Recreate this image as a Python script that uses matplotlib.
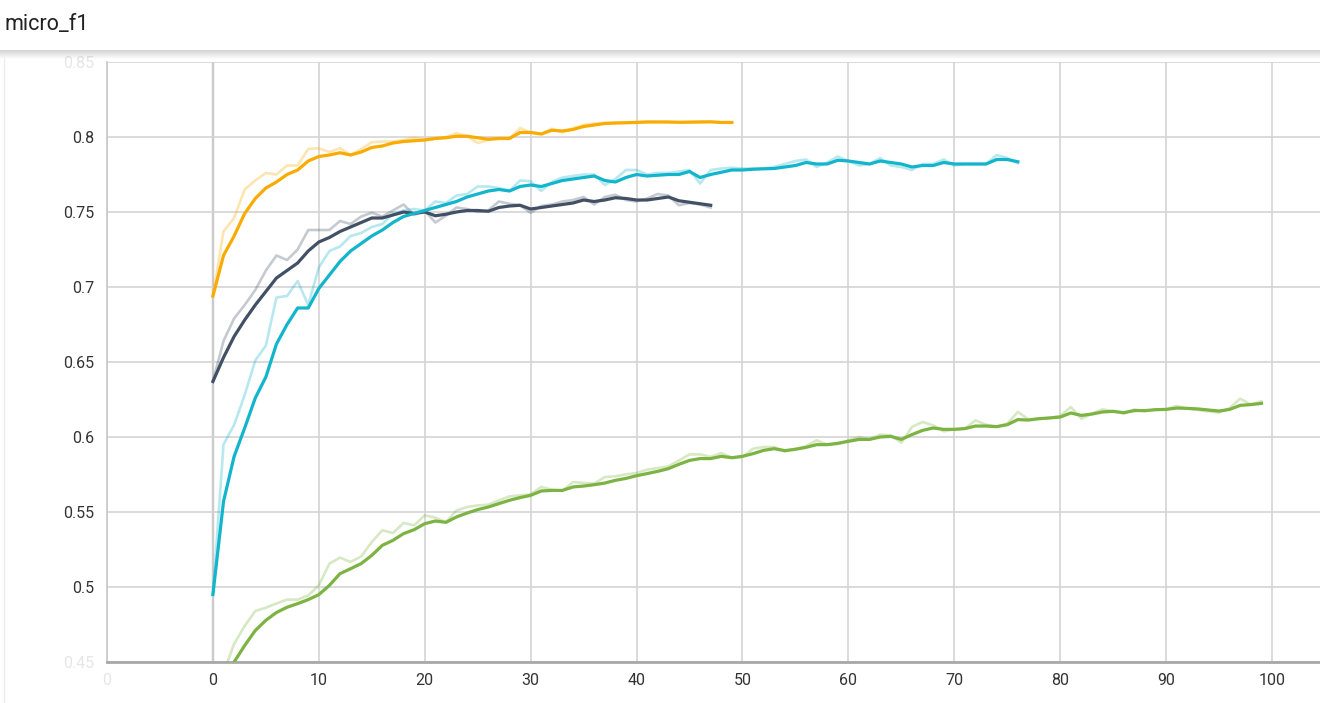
import numpy as np
import matplotlib
matplotlib.use("Agg")
import matplotlib.pyplot as plt
from matplotlib.lines import Line2D

plt.rcParams['font.family'] = ['Roboto', 'DejaVu Sans']

title = "micro_f1"

orange_smooth = [0.694, 0.721, 0.734, 0.749, 0.759, 0.766, 0.770, 0.775, 0.778, 0.784,
                 0.787, 0.788, 0.7895, 0.788, 0.790, 0.793, 0.794, 0.796, 0.797, 0.7975,
                 0.798, 0.799, 0.7995, 0.8005, 0.8005, 0.7995, 0.7985, 0.799, 0.799, 0.803,
                 0.803, 0.802, 0.8045, 0.804, 0.805, 0.807, 0.808, 0.809, 0.8093, 0.8095,
                 0.8097, 0.810, 0.810, 0.810, 0.8098, 0.8099, 0.810, 0.8101, 0.8097, 0.8097]
orange_raw = [0.694, 0.737, 0.746, 0.765, 0.771, 0.776, 0.775, 0.781, 0.781, 0.792,
              0.7925, 0.790, 0.7925, 0.788, 0.792, 0.7965, 0.797, 0.797, 0.798, 0.7995,
              0.798, 0.799, 0.800, 0.8025, 0.8005, 0.796, 0.798, 0.799, 0.799, 0.806,
              0.803, 0.802, 0.8055, 0.803, 0.806, 0.808, 0.809, 0.8095, 0.8095, 0.8097,
              0.810, 0.8102, 0.8102, 0.810, 0.8098, 0.810, 0.8102, 0.8102, 0.8095, 0.8097]

navy_smooth = [0.637, 0.653, 0.667, 0.678, 0.688, 0.697, 0.706, 0.711, 0.716, 0.724,
               0.730, 0.733, 0.737, 0.740, 0.743, 0.746, 0.746, 0.748, 0.750, 0.749,
               0.750, 0.7475, 0.7485, 0.750, 0.751, 0.751, 0.7505, 0.753, 0.754, 0.7545,
               0.752, 0.753, 0.754, 0.755, 0.756, 0.758, 0.757, 0.758, 0.7595, 0.759,
               0.758, 0.758, 0.759, 0.760, 0.7575, 0.7565, 0.7555, 0.7545]
navy_raw = [0.637, 0.664, 0.679, 0.688, 0.698, 0.711, 0.721, 0.718, 0.725, 0.738,
            0.738, 0.738, 0.744, 0.742, 0.747, 0.7495, 0.747, 0.751, 0.755, 0.748,
            0.751, 0.743, 0.7475, 0.753, 0.752, 0.750, 0.751, 0.757, 0.7555, 0.7545,
            0.7495, 0.754, 0.755, 0.757, 0.758, 0.760, 0.755, 0.760, 0.7615, 0.758,
            0.757, 0.759, 0.762, 0.761, 0.7545, 0.756, 0.755, 0.753]

cyan_smooth = [0.495, 0.557, 0.587, 0.606, 0.626, 0.640, 0.662, 0.675, 0.686, 0.686,
               0.699, 0.708, 0.717, 0.724, 0.729, 0.734, 0.738, 0.743, 0.747, 0.749,
               0.751, 0.753, 0.755, 0.757, 0.760, 0.762, 0.764, 0.765, 0.764, 0.767,
               0.768, 0.767, 0.769, 0.771, 0.772, 0.773, 0.774, 0.771, 0.770, 0.773,
               0.775, 0.774, 0.7745, 0.775, 0.775, 0.777, 0.773, 0.775, 0.7765, 0.778,
               0.778, 0.7785, 0.7788, 0.779, 0.780, 0.781, 0.783, 0.782, 0.782, 0.7845,
               0.784, 0.783, 0.782, 0.784, 0.783, 0.782, 0.780, 0.781, 0.781, 0.783,
               0.782, 0.782, 0.782, 0.782, 0.785, 0.785, 0.7835]
cyan_raw = [0.495, 0.595, 0.608, 0.628, 0.651, 0.661, 0.693, 0.694, 0.704, 0.688,
            0.713, 0.724, 0.727, 0.734, 0.736, 0.740, 0.742, 0.749, 0.751, 0.752,
            0.751, 0.757, 0.756, 0.761, 0.762, 0.767, 0.767, 0.766, 0.764, 0.771,
            0.7705, 0.764, 0.770, 0.773, 0.774, 0.775, 0.775, 0.768, 0.772, 0.778,
            0.778, 0.775, 0.776, 0.776, 0.777, 0.778, 0.769, 0.778, 0.779, 0.7795,
            0.779, 0.779, 0.779, 0.780, 0.782, 0.784, 0.785, 0.780, 0.783, 0.787,
            0.784, 0.781, 0.782, 0.786, 0.781, 0.780, 0.778, 0.782, 0.782, 0.785,
            0.781, 0.782, 0.782, 0.782, 0.788, 0.786, 0.7825]

green_smooth = [0.400, 0.430, 0.450, 0.461, 0.471, 0.4778, 0.483, 0.4865, 0.4889, 0.4916,
                0.4949, 0.5011, 0.5089, 0.5122, 0.5156, 0.5211, 0.5278, 0.5311, 0.5356, 0.5382,
                0.5422, 0.544, 0.5431, 0.5467, 0.5493, 0.5516, 0.5533, 0.5556, 0.5578, 0.5596,
                0.5611, 0.564, 0.5644, 0.5644, 0.5667, 0.5673, 0.5682, 0.5693, 0.5711, 0.5724,
                0.5742, 0.5756, 0.5771, 0.5789, 0.5818, 0.5844, 0.5856, 0.5856, 0.5871, 0.5862,
                0.5871, 0.5889, 0.5911, 0.5922, 0.5909, 0.5918, 0.5931, 0.5949, 0.5949, 0.5958,
                0.5971, 0.5984, 0.5984, 0.600, 0.6004, 0.5984, 0.6016, 0.6044, 0.606, 0.6051,
                0.6051, 0.6056, 0.6073, 0.6073, 0.6069, 0.6082, 0.6116, 0.6113, 0.6122, 0.6127,
                0.6133, 0.616, 0.6144, 0.6153, 0.6167, 0.6171, 0.6162, 0.6176, 0.6176, 0.6182,
                0.6184, 0.6193, 0.6191, 0.6187, 0.618, 0.6173, 0.6184, 0.6211, 0.6216, 0.6224]
green_raw = [0.400, 0.443, 0.462, 0.474, 0.484, 0.4862, 0.489, 0.4916, 0.4916, 0.4944,
             0.5011, 0.5156, 0.5196, 0.5167, 0.5204, 0.530, 0.5378, 0.536, 0.5427, 0.5411,
             0.5478, 0.5462, 0.5433, 0.5511, 0.5533, 0.5544, 0.5549, 0.5578, 0.5604, 0.5611,
             0.5618, 0.5667, 0.5649, 0.564, 0.570, 0.5693, 0.5689, 0.5733, 0.5738, 0.5751,
             0.576, 0.5782, 0.5793, 0.5804, 0.5844, 0.5884, 0.5884, 0.5867, 0.5893, 0.5862,
             0.5867, 0.5922, 0.5933, 0.5933, 0.5904, 0.5922, 0.5938, 0.5978, 0.5949, 0.5953,
             0.5978, 0.600, 0.5984, 0.6016, 0.6011, 0.5962, 0.6067, 0.610, 0.6078, 0.6038,
             0.6051, 0.6056, 0.6111, 0.6082, 0.6069, 0.6089, 0.6167, 0.6118, 0.6122, 0.6127,
             0.614, 0.620, 0.6122, 0.6156, 0.6184, 0.6171, 0.6156, 0.6184, 0.6171, 0.6184,
             0.6184, 0.6207, 0.6189, 0.618, 0.6171, 0.6162, 0.6193, 0.6256, 0.6216, 0.6238]

x_ticks = [-10, 0, 10, 20, 30, 40, 50, 60, 70, 80, 90, 100]
x_tick_labels = ["0", "0", "10", "20", "30", "40", "50", "60", "70", "80", "90", "100"]
y_ticks = [0.45, 0.5, 0.55, 0.6, 0.65, 0.7, 0.75, 0.8, 0.85]
y_tick_labels = ["0.45", "0.5", "0.55", "0.6", "0.65", "0.7", "0.75", "0.8", "0.85"]

runs = [
    (green_raw, green_smooth, "#7cb342"),
    (navy_raw, navy_smooth, "#425066"),
    (cyan_raw, cyan_smooth, "#12b5cb"),
    (orange_raw, orange_smooth, "#f9ab00"),
]

W, H = 1320, 703
fig = plt.figure(figsize=(W / 100, H / 100), dpi=100, facecolor="white")

# header title
fig.text(5 / W, 1 - 24 / H, title, fontsize=15.5, color="#212121", va="center", ha="left")

# header shadow
sh = fig.add_axes([0, 1 - 59 / H, 1, 9 / H])
grad = np.linspace(0, 1, 50).reshape(-1, 1)
sh.imshow(grad, aspect="auto", cmap=matplotlib.colors.LinearSegmentedColormap.from_list(
    "sh", ["#d2d2d2", "#ffffff"]), extent=[0, 1, 0, 1], origin="upper")
sh.axis("off")

# left faint card border
fig.add_artist(Line2D([3.5 / W, 3.5 / W], [0, 1 - 58 / H], color="#ececec", lw=1.0))

L, R, T, B = 107, 1320, 62, 662
ax = fig.add_axes([L / W, 1 - B / H, (R - L) / W, (B - T) / H])
ax.set_facecolor("white")

for raw, smooth, col in runs:
    xs = np.arange(len(raw))
    ax.plot(xs, raw, color=col, alpha=0.3, lw=1.9, solid_joinstyle="round", zorder=3)
for raw, smooth, col in runs:
    xs = np.arange(len(smooth))
    ax.plot(xs, smooth, color=col, lw=2.3, solid_joinstyle="round", zorder=4)

ax.set_xlim(-10, 104.53)
ax.set_ylim(0.45, 0.85)
ax.set_xticks(x_ticks)
ax.set_xticklabels(x_tick_labels)
ax.set_yticks(y_ticks)
ax.set_yticklabels(y_tick_labels)
ax.grid(True, color="#d4d4d4", lw=1.2, zorder=0)
ax.axvline(0, color="#a0a0a0", lw=1.6, zorder=1)

for s in ["top", "right"]:
    ax.spines[s].set_visible(False)
ax.spines["left"].set_color("#c8c8c8")
ax.spines["left"].set_linewidth(1.2)
ax.spines["bottom"].set_color("#a8a8a8")
ax.spines["bottom"].set_linewidth(2.0)

ax.tick_params(axis="both", length=0, labelsize=11.5, labelcolor="#333333")
ax.tick_params(axis="y", pad=9)
ax.tick_params(axis="x", pad=8)

for lbl, t in zip(ax.get_xticklabels(), x_ticks):
    if t == -10:
        lbl.set_alpha(0.12)
for lbl, t in zip(ax.get_yticklabels(), y_ticks):
    if t in (0.45, 0.85):
        lbl.set_alpha(0.12)

fig.savefig("out.png", dpi=100, facecolor="white")
